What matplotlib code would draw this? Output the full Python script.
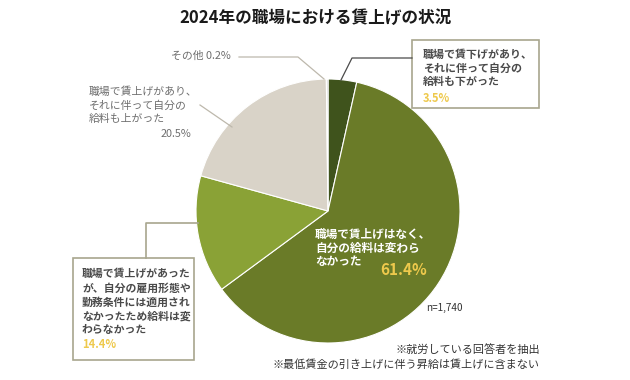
import matplotlib.pyplot as plt
from matplotlib.patches import Rectangle

plt.rcParams['font.family'] = ['Noto Sans CJK JP', 'DejaVu Sans']

# データ(時計回り、12時から)
labels = ['職場で賃下げがあり、\nそれに伴って自分の\n給料も下がった',
          '職場で賃上げはなく、\n自分の給料は変わら\nなかった',
          '職場で賃上げがあった\nが、自分の雇用形態や\n勤務条件には適用され\nなかったため給料は変\nわらなかった',
          '職場で賃上げがあり、\nそれに伴って自分の\n給料も上がった',
          'その他']
values = [3.5, 61.4, 14.4, 20.5, 0.2]
colors = ['#3f531c', '#6a7b28', '#8aa236', '#d9d3c8', '#c9c9c9']

title = '2024年の職場における賃上げの状況'
n_label = 'n=1,740'
notes = ['※就労している回答者を抽出', '※最低賃金の引き上げに伴う昇給は賃上げに含まない']

YELLOW = '#eec94c'
GRAY = '#6e6e6e'
DARK = '#4a4a4a'
LINE = '#a8a68e'

fig = plt.figure(figsize=(6.3, 3.8), dpi=100)
ax = fig.add_axes([0, 0, 1, 1])

# 画面のピクセル座標で描く(yは下向き)
ax.pie(values, colors=colors, startangle=-90, counterclock=True,
       center=(328, 211), radius=132,
       wedgeprops=dict(edgecolor='white', linewidth=0.8))
ax.set_xlim(0, 630)
ax.set_ylim(380, 0)
ax.axis('off')

ax.text(315, 18, title, ha='center', va='center', fontsize=12, fontweight='bold', color='#1a1a1a')

# 賃下げ(右上の枠)
ax.add_patch(Rectangle((412, 40), 127, 68, fill=False, edgecolor=LINE, linewidth=1.2))
ax.plot([412, 352, 341], [58, 58, 80], color=DARK, linewidth=0.9)
for i, line in enumerate(labels[0].split('\n')):
    ax.text(423, 55 + i * 13.5, line, ha='left', va='center', fontsize=7.9,
            fontweight='bold', color=DARK)
ax.text(423, 98, f'{values[0]}%', ha='left', va='center', fontsize=8, fontweight='bold', color=YELLOW)

# 賃上げなし(円の中)
for i, line in enumerate(labels[1].split('\n')):
    ax.text(315, 234 + i * 14, line, ha='left', va='center', fontsize=8.4,
            fontweight='bold', color='white')
ax.text(380, 270, f'{values[1]}%', ha='left', va='center', fontsize=11, fontweight='bold', color=YELLOW)

# 適用されず(左下の枠)
ax.add_patch(Rectangle((73, 258), 121, 102, fill=False, edgecolor=LINE, linewidth=1.2))
ax.plot([146, 146, 198], [258, 223, 223], color=LINE, linewidth=1.2)
for i, line in enumerate(labels[2].split('\n')):
    ax.text(82, 274 + i * 14, line, ha='left', va='center', fontsize=7.8,
            fontweight='bold', color=DARK)
ax.text(82, 345, f'{values[2]}%', ha='left', va='center', fontsize=8, fontweight='bold', color=YELLOW)

# 賃上げあり(左)
for i, line in enumerate(labels[3].split('\n')):
    ax.text(89, 92 + i * 13.5, line, ha='left', va='center', fontsize=7.8, color=GRAY)
ax.text(191, 134, f'{values[3]}%', ha='right', va='center', fontsize=7.8, color=GRAY)
ax.plot([200, 232], [105, 127], color='#bdb8ac', linewidth=0.9)

# その他
ax.text(171, 56, f'{labels[4]} {values[4]}%', ha='left', va='center', fontsize=7.8, color=GRAY)
ax.plot([239, 298, 324], [57, 57, 79], color='#bdb8ac', linewidth=0.9)

ax.text(426, 308, n_label, ha='left', va='center', fontsize=7.2, color='#333333')
ax.text(540, 349, notes[0], ha='right', va='center', fontsize=8, color='#333333')
ax.text(540, 365, notes[1], ha='right', va='center', fontsize=8, color='#333333')

fig.savefig('out.png', dpi=100, facecolor='white')
